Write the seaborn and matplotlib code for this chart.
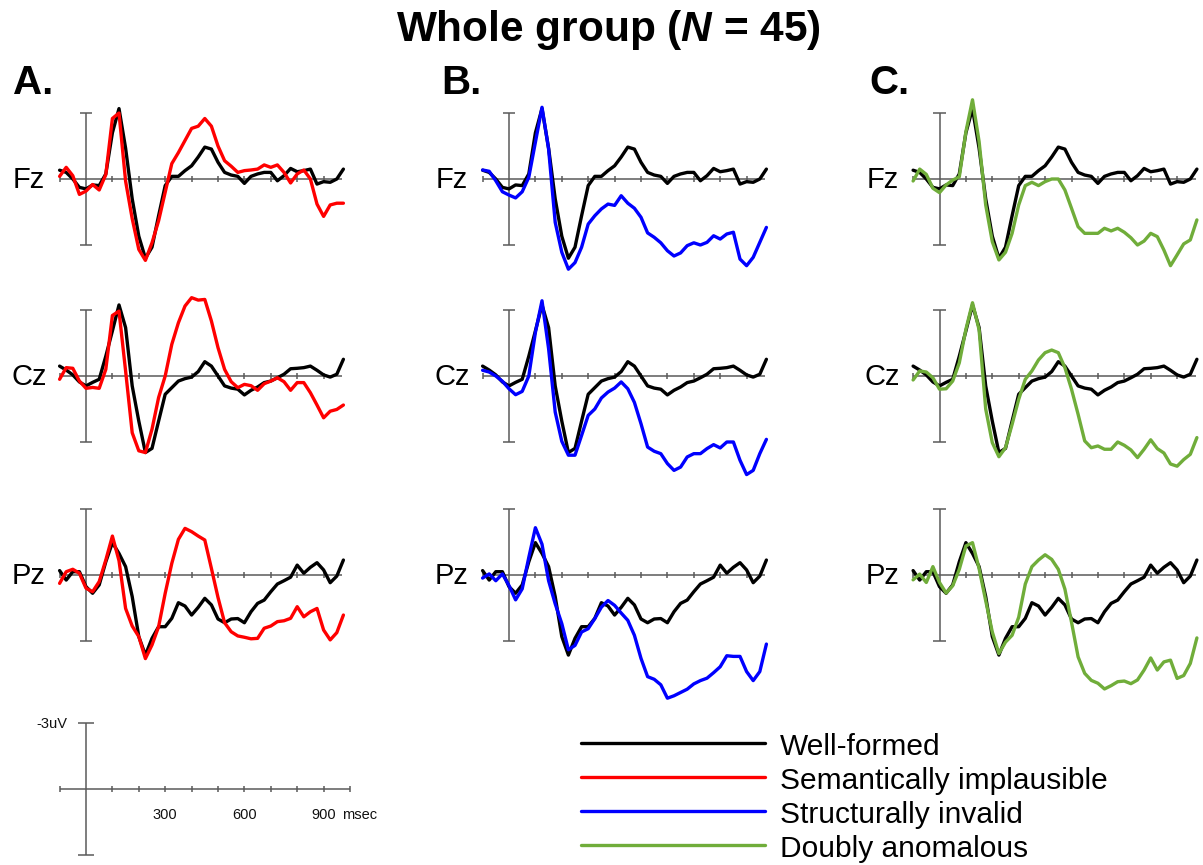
import matplotlib
matplotlib.use("Agg")
import matplotlib.pyplot as plt
import pandas as pd
import seaborn as sns
from matplotlib.lines import Line2D

sns.set_theme(style="white")
plt.rcParams["font.family"] = ["Liberation Sans", "DejaVu Sans"]
plt.rcParams["text.color"] = "black"
plt.rcParams["mathtext.fontset"] = "custom"
plt.rcParams["mathtext.it"] = "Liberation Sans:italic:bold"
plt.rcParams["mathtext.rm"] = "Liberation Sans:bold"

# ---------------- data (uV, negative plotted up) ----------------
times = [-100, -75, -50, -25, 0, 25, 50, 75, 100, 125, 150, 175, 200, 225, 250,
         275, 300, 325, 350, 375, 400, 425, 450, 475, 500, 525, 550, 575, 600,
         625, 650, 675, 700, 725, 750, 775, 800, 825, 850, 875, 900, 925, 950, 975]

sites = ["Fz", "Cz", "Pz"]
conditions = ["Well-formed", "Semantically implausible", "Structurally invalid", "Doubly anomalous"]
colors = ["#000000", "#ff0000", "#0000ff", "#70ad3a"]
panel_letters = ["A.", "B.", "C."]

well_fz = [-0.4, -0.3, 0.0, 0.38, 0.45, 0.27, 0.3, -0.23, -2.1, -3.2, -1.4, 0.9, 2.6, 3.6, 3.1,
           1.67, 0.3, -0.12, -0.12, -0.38, -0.6, -1.0, -1.45, -1.36, -0.76, -0.3, -0.18, -0.12, 0.2,
           -0.12, -0.23, -0.3, -0.3, 0.08, -0.15, -0.48, -0.33, -0.38, -0.45, 0.23, 0.12, 0.15, 0.0, -0.45]
well_cz = [-0.45, -0.27, -0.05, 0.27, 0.45, 0.29, 0.15, -0.9, -2.05, -3.23, -2.2, 0.45, 2.05, 3.48, 3.29,
           2.05, 0.83, 0.53, 0.23, 0.12, 0.05, -0.2, -0.65, -0.45, 0.0, 0.45, 0.55, 0.6, 0.86,
           0.65, 0.5, 0.3, 0.23, 0.08, -0.08, -0.33, -0.35, -0.38, -0.45, -0.26, -0.05, 0.05, -0.08, -0.76]
well_pz = [-0.2, 0.23, -0.15, -0.15, 0.53, 0.83, 0.45, -0.6, -1.47, -0.98, -0.38, 0.98, 2.8, 3.64, 2.88,
           2.35, 2.35, 1.97, 1.26, 1.41, 1.82, 1.47, 1.06, 1.36, 2.0, 2.17, 2.0, 1.98, 2.17,
           1.67, 1.29, 1.14, 0.76, 0.41, 0.26, 0.1, -0.45, -0.08, -0.35, -0.56, -0.23, 0.35, 0.05, -0.68]

sem_fz = [-0.12, -0.53, -0.15, 0.7, 0.55, 0.25, 0.5, -0.2, -2.75, -3.0, 0.1, 1.8, 3.2, 3.7, 2.9,
          1.9, 0.6, -0.7, -1.2, -1.75, -2.3, -2.4, -2.75, -2.4, -1.5, -0.83, -0.58, -0.3, -0.38,
          -0.41, -0.45, -0.64, -0.53, -0.64, -0.3, 0.18, -0.23, -0.41, 0.0, 1.14, 1.7, 1.18, 1.1, 1.1]
sem_cz = [0.15, -0.38, -0.35, 0.23, 0.56, 0.52, 0.56, -0.3, -2.75, -2.95, -0.23, 2.58, 3.4, 3.48, 2.42,
          0.98, 0.0, -1.44, -2.42, -3.18, -3.56, -3.45, -3.48, -2.5, -1.29, -0.3, 0.26, 0.53, 0.38,
          0.44, 0.65, 0.35, 0.23, 0.08, 0.26, 0.65, 0.3, 0.3, 0.76, 1.32, 1.9, 1.6, 1.52, 1.32]
sem_pz = [0.38, -0.15, -0.26, -0.08, 0.6, 0.76, 0.3, -0.68, -1.77, -0.65, 1.52, 2.32, 2.8, 3.8, 3.18,
          2.35, 0.83, -0.53, -1.62, -2.12, -1.97, -1.77, -1.59, -0.3, 1.02, 2.17, 2.58, 2.77, 2.83,
          2.9, 2.88, 2.42, 2.32, 2.12, 2.08, 1.97, 1.44, 1.9, 1.67, 1.52, 2.5, 2.95, 2.62, 1.82]

str_fz = [-0.41, -0.35, 0.08, 0.58, 0.73, 0.86, 0.58, -0.08, -1.67, -3.26, -1.36, 1.97, 3.33, 4.1, 3.8,
          3.1, 2.05, 1.67, 1.36, 1.14, 1.2, 0.76, 1.1, 1.33, 1.74, 2.45, 2.65, 2.9, 3.26,
          3.5, 3.36, 3.03, 2.9, 3.0, 2.88, 2.58, 2.73, 2.5, 2.42, 3.64, 3.94, 3.56, 2.88, 2.2]
str_cz = [-0.26, -0.18, 0.0, 0.24, 0.58, 0.85, 0.7, 0.0, -1.98, -3.42, -1.24, 1.64, 2.97, 3.6, 3.6,
          2.7, 1.79, 1.5, 1.0, 0.73, 0.55, 0.27, 0.58, 1.2, 2.17, 3.23, 3.42, 3.53, 3.98,
          4.29, 4.14, 3.68, 3.53, 3.53, 3.3, 3.12, 3.27, 3.0, 3.0, 3.83, 4.48, 4.29, 3.53, 2.88]
str_pz = [0.14, -0.05, 0.26, -0.05, 0.48, 1.13, 0.63, -0.8, -2.15, -1.4, 0.26, 1.31, 2.21, 3.4, 3.2,
          2.59, 2.44, 1.98, 1.46, 1.16, 1.38, 1.73, 2.06, 2.74, 3.79, 4.62, 4.74, 4.99, 5.6,
          5.49, 5.34, 5.19, 4.95, 4.8, 4.69, 4.44, 4.17, 3.67, 3.7, 3.7, 4.39, 4.8, 4.39, 3.14]

dbl_fz = [0.09, -0.45, -0.21, 0.42, 0.62, 0.27, 0.05, -0.1, -2.15, -3.6, -1.7, 1.18, 2.85, 3.68, 3.33,
          2.47, 1.18, 0.3, 0.15, 0.3, 0.12, 0.0, 0.0, 0.5, 1.33, 2.17, 2.47, 2.47, 2.47,
          2.24, 2.36, 2.24, 2.42, 2.67, 3.0, 2.82, 2.47, 2.62, 3.23, 3.94, 3.45, 2.95, 2.77, 1.86]
dbl_cz = [0.18, -0.23, -0.18, 0.08, 0.6, 0.58, 0.23, -0.6, -2.12, -3.33, -2.1, 1.5, 3.03, 3.67, 3.26,
          2.2, 1.06, 0.15, -0.23, -0.73, -1.06, -1.18, -1.06, -0.38, 0.6, 1.74, 2.95, 3.26, 3.18,
          3.33, 3.33, 3.0, 3.15, 3.36, 3.71, 3.33, 2.9, 3.3, 3.5, 4.0, 4.1, 3.8, 3.56, 2.8]
dbl_pz = [0.22, -0.04, 0.34, -0.38, 0.34, 0.82, 0.49, -0.26, -1.32, -1.47, -0.29, 1.17, 2.59, 3.57, 3.05,
          2.74, 1.92, 0.41, -0.38, -0.68, -0.92, -0.71, -0.26, 0.64, 2.14, 3.72, 4.47, 4.79, 4.92,
          5.18, 5.03, 4.85, 4.82, 4.94, 4.77, 4.32, 3.77, 4.32, 3.95, 3.87, 4.7, 4.57, 4.02, 2.86]

well = {"Fz": well_fz, "Cz": well_cz, "Pz": well_pz}
anomalies = [
    {"Fz": sem_fz, "Cz": sem_cz, "Pz": sem_pz},
    {"Fz": str_fz, "Cz": str_cz, "Pz": str_pz},
    {"Fz": dbl_fz, "Cz": dbl_cz, "Pz": dbl_pz},
]
tick_times = [-100, 100, 200, 300, 400, 500, 600, 700, 800, 900]
scale_ticks = [-100, 100, 200, 300, 400, 500, 600, 700, 800, 900, 1000]

# ---------------- layout (pixels) ----------------
W, H = 1203, 865
PX_MS = 0.264      # pixels per ms
PX_UV = 22.0       # pixels per uV
col_t0 = [86, 509, 939.5]
row_zero = [179, 376, 575]
AX_GRAY = "#5a5a5a"

fig = plt.figure(figsize=(W / 100, H / 100), dpi=100)


def make_axes(x0, y0, xlim=(-120, 1010), ylim=(-4.2, 6.4)):
    left = x0 + xlim[0] * PX_MS
    width = (xlim[1] - xlim[0]) * PX_MS
    top = y0 + ylim[0] * PX_UV
    height = (ylim[1] - ylim[0]) * PX_UV
    ax = fig.add_axes([left / W, 1 - (top + height) / H, width / W, height / H])
    ax.set_xlim(*xlim)
    ax.set_ylim(ylim[1], ylim[0])   # negative up
    ax.set_axis_off()
    return ax


for c in range(3):
    for r, site in enumerate(sites):
        ax = make_axes(col_t0[c], row_zero[r])
        ax.hlines(0, -100, 970, color=AX_GRAY, lw=1.1, zorder=1)
        ax.vlines(tick_times, -0.14, 0.14, color=AX_GRAY, lw=1.1, zorder=1)
        ax.vlines(0, -3, 3, color=AX_GRAY, lw=1.1, zorder=1)
        ax.hlines([-3, 3], -23, 23, color=AX_GRAY, lw=1.1, zorder=1)
        df = pd.DataFrame({
            "time": times * 2,
            "uV": well[site] + anomalies[c][site],
            "condition": [conditions[0]] * len(times) + [conditions[c + 1]] * len(times),
        })
        sns.lineplot(data=df, x="time", y="uV", hue="condition",
                     hue_order=[conditions[0], conditions[c + 1]],
                     palette=[colors[0], colors[c + 1]], linewidth=2.4,
                     estimator=None, legend=False, ax=ax, zorder=3)
        for ln in ax.lines:
            ln.set_solid_capstyle("round")
            ln.set_solid_joinstyle("round")
        ax.set_axis_off()
        ax.text(-57 / PX_MS, 0.05, site, ha="center", va="center", fontsize=21, color="black")

# scale bar
sax = make_axes(86, 789, xlim=(-120, 1120), ylim=(-3.4, 3.4))
sax.hlines(0, -100, 1000, color=AX_GRAY, lw=1.1)
sax.vlines(scale_ticks, -0.14, 0.14, color=AX_GRAY, lw=1.1)
sax.vlines(0, -3, 3, color=AX_GRAY, lw=1.1)
sax.hlines([-3, 3], -30, 30, color=AX_GRAY, lw=1.1)
for t in [300, 600, 900]:
    sax.text(t, 1.2, str(t), ha="center", va="center", fontsize=10.5, color="#111111")
sax.text(970, 1.2, "msec", ha="left", va="center", fontsize=10.5, color="#111111")
sax.text(-72, -2.95, "-3uV", ha="right", va="center", fontsize=10.5, color="#111111")

# title and panel letters
fig.text(608 / W, 1 - 41 / H, r"Whole group ($\mathit{N}$ = 45)", ha="center", va="baseline",
         fontsize=30.5, fontweight="bold", color="black")
for x, lab in zip([13, 441, 869], panel_letters):
    fig.text(x / W, 1 - 94 / H, lab, ha="left", va="baseline", fontsize=29, fontweight="bold",
             color="black")

# legend
for i, (lab, col) in enumerate(zip(conditions, colors)):
    y = 743 + i * 34
    fig.add_artist(Line2D([581 / W, 765 / W], [1 - y / H, 1 - y / H], color=col, lw=2.4,
                          transform=fig.transFigure))
    fig.text(780 / W, 1 - (y + 12) / H, lab, ha="left", va="baseline", fontsize=21.5, color="black")

fig.savefig("out.png", dpi=100, facecolor="white")
